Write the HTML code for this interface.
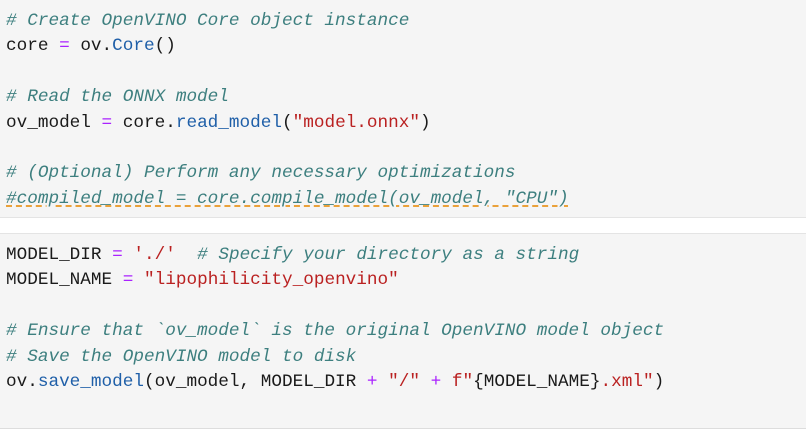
<!DOCTYPE html>
<html><head><meta charset="utf-8"><style>
body{margin:0;width:806px;height:435px;background:#fff;overflow:hidden;font-family:"Liberation Mono",monospace;font-size:17.7px;color:#1a1a1a}
.blk{position:absolute;left:0;width:806px;background:#f5f5f5}
pre{margin:0;font:inherit;line-height:25.4px;position:absolute;left:6px;white-space:pre}
.c{color:#3d7f7f;font-style:italic}
.o{color:#aa22ff}
.f{color:#1f5fa8}
.s{color:#ba2121}
.w{text-decoration:underline dashed #e8951f;text-underline-offset:3px}
</style></head><body>
<div class="blk" style="top:0;height:217px;border-bottom:1px solid #e4e4e4"></div>
<div class="blk" style="top:233px;height:194px;border-top:1px solid #e4e4e4;border-bottom:1px solid #ddd"></div>
<pre style="top:9px"><span class="c"># Create OpenVINO Core object instance</span>
core <span class="o">=</span> ov.<span class="f">Core</span>()

<span class="c"># Read the ONNX model</span>
ov_model <span class="o">=</span> core.<span class="f">read_model</span>(<span class="s">"model.onnx"</span>)

<span class="c"># (Optional) Perform any necessary optimizations</span>
<span class="c w">#compiled_model = core.compile_model(ov_model, "CPU")</span></pre>
<pre style="top:243px">MODEL_DIR <span class="o">=</span> <span class="s">'./'</span>  <span class="c"># Specify your directory as a string</span>
MODEL_NAME <span class="o">=</span> <span class="s">"lipophilicity_openvino"</span>

<span class="c"># Ensure that `ov_model` is the original OpenVINO model object</span>
<span class="c"># Save the OpenVINO model to disk</span>
ov.<span class="f">save_model</span>(ov_model, MODEL_DIR <span class="o">+</span> <span class="s">"/"</span> <span class="o">+</span> <span class="s">f"</span>{MODEL_NAME}<span class="s">.xml"</span>)</pre>
</body></html>
